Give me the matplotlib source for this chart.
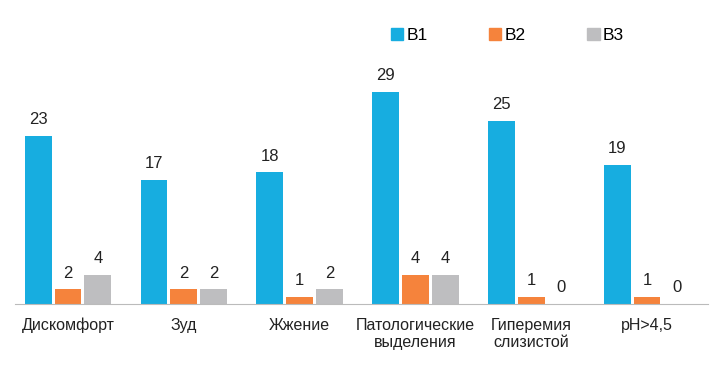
import numpy as np
import matplotlib
matplotlib.use("Agg")
import matplotlib.pyplot as plt
from matplotlib.patches import Patch

plt.rcParams['font.family'] = ['Liberation Sans Narrow', 'Liberation Sans', 'DejaVu Sans']

categories = ['Дискомфорт', 'Зуд', 'Жжение', 'Патологические\nвыделения',
              'Гиперемия\nслизистой', 'pH>4,5']
series = ['В1', 'В2', 'В3']
b1 = [23, 17, 18, 29, 25, 19]
b2 = [2, 2, 1, 4, 1, 1]
b3 = [4, 2, 2, 4, 0, 0]
colors = ['#17ade0', '#f5833c', '#bebec0']

fig = plt.figure(figsize=(7.28, 3.76), dpi=100)
ax = fig.add_axes([15 / 728, 72 / 376, 693 / 728, 0.6027])

x = np.arange(len(categories))
step = 0.257
width = 0.232
for i, (vals, c) in enumerate(zip([b1, b2, b3], colors)):
    pos = x + (i - 1) * step
    ax.bar(pos, vals, width=width, color=c, label=series[i])
    for p, v in zip(pos, vals):
        ax.text(p, v + 1.2, str(v), ha='center', va='bottom',
                fontsize=12, color='#222222')

ax.set_xlim(-0.458, 5.527)
ax.set_ylim(0, 31)
for s in ['top', 'right', 'left']:
    ax.spines[s].set_visible(False)
ax.spines['bottom'].set_color('#bbbbbb')
ax.set_yticks([])
ax.set_xticks(x)
ax.set_xticklabels(categories, fontsize=11.5, color='#222222', linespacing=1.15)
ax.tick_params(axis='x', length=0, pad=10)

handles = [Patch(color=c) for c in colors]
fig.legend(handles, series, loc='center', bbox_to_anchor=(0.697, 0.905), ncol=3,
           frameon=False, fontsize=12.5, handlelength=0.7, handleheight=0.7,
           handletextpad=0.2, columnspacing=3.55)

fig.savefig('out.png', dpi=100)
